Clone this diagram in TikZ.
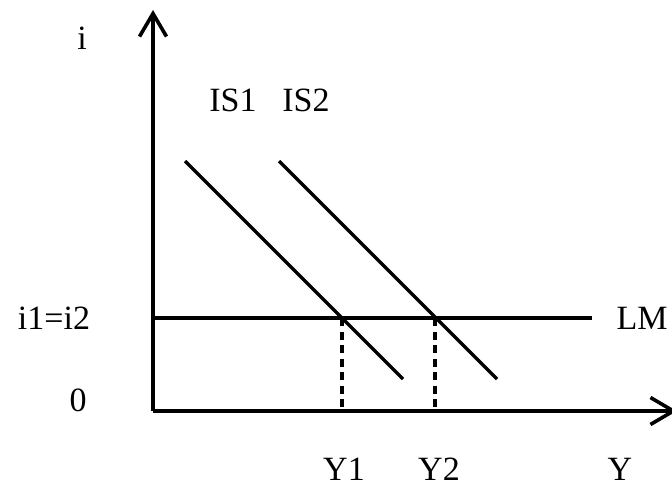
\documentclass[tikz,border=0pt]{standalone}
\usepackage{fontspec}
\setmainfont{Liberation Serif}
\usetikzlibrary{arrows.meta}
\begin{document}
\begin{tikzpicture}[x=1pt,y=-1pt,
  axis/.style={line width=3.8pt,-{Straight Barb[length=23pt,width=27pt,line width=3.6pt]}},
  curve/.style={line width=3.3pt},
  guide/.style={line width=3.3pt,dash pattern=on 8pt off 5.5pt},
  lbl/.style={font=\fontsize{34}{37}\selectfont,inner sep=0pt}]
\useasboundingbox (0,0) rectangle (672,488);
\coordinate (O) at (153,411);
\coordinate (ytip) at (153,10);
\coordinate (xtip) at (677,411);
\coordinate (lmL) at (153,318);
\coordinate (lmR) at (592,318);
\coordinate (is1a) at (185,161);
\coordinate (is1b) at (403,379);
\coordinate (is2a) at (279,161);
\coordinate (is2b) at (497,379);
\coordinate (e1) at (342,318);
\coordinate (e2) at (435,318);
\coordinate (b1) at (342,411);
\coordinate (b2) at (435,411);
\draw[curve] (lmL) -- (lmR);
\draw[curve] (is1a) -- (is1b);
\draw[curve] (is2a) -- (is2b);
\draw[guide] (e1) -- (b1);
\draw[guide] (e2) -- (b2);
\draw[axis] (O) -- (ytip);
\draw[axis] (O) -- (xtip);
\node[lbl] (li) at (82,38) {i};
\node[lbl] (lis1) at (233,100) {IS1};
\node[lbl] (lis2) at (306,100) {IS2};
\node[lbl] (li12) at (54,318) {i1=i2};
\node[lbl] (l0) at (78,400) {0};
\node[lbl] (llm) at (642,318) {LM};
\node[lbl] (ly1) at (344,469) {Y1};
\node[lbl] (ly2) at (439,469) {Y2};
\node[lbl] (ly) at (620,469) {Y};
\end{tikzpicture}
\end{document}
